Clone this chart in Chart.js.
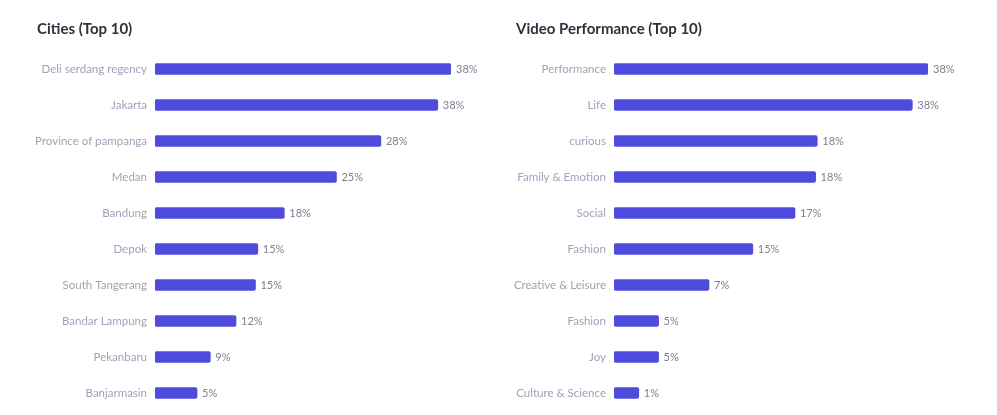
<!DOCTYPE html>
<html>
<head>
<meta charset="utf-8">
<script src="https://cdn.jsdelivr.net/npm/chart.js@4.4.1/dist/chart.umd.min.js"></script>
<style>
  html, body { margin: 0; padding: 0; background: #fff; }
  #wrap { position: relative; width: 997px; height: 415px; overflow: hidden; }
  canvas { position: absolute; top: 0; }
  #c1 { left: 0; }
  #c2 { left: 497px; }
  .ttl { position: absolute; top: 19px; font: bold 15px Lato, 'Open Sans', sans-serif; color: #30303c; line-height: 18px; white-space: nowrap; }
</style>
</head>
<body>
<div id="wrap">
  <canvas id="c1" width="497" height="415"></canvas>
  <canvas id="c2" width="500" height="415"></canvas>
  <div class="ttl" style="left:37px">Cities (Top 10)</div>
  <div class="ttl" style="left:516px">Video Performance (Top 10)</div>
</div>
<script>
// data: bar lengths and the printed percentages differ a bit
const cityNames = ["Deli serdang regency", "Jakarta", "Province of pampanga", "Medan", "Bandung",
  "Depok", "South Tangerang", "Bandar Lampung", "Pekanbaru", "Banjarmasin"];
const cityBars = [38, 36.3, 29.0, 23.3, 16.6, 13.2, 12.9, 10.4, 7.1, 5.4];
const cityPct = [38, 38, 28, 25, 18, 15, 15, 12, 9, 5];

const videoNames = ["Performance", "Life", "curious", "Family & Emotion", "Social",
  "Fashion", "Creative & Leisure", "Fashion", "Joy", "Culture & Science"];
const videoBars = [38, 36.1, 24.6, 24.4, 21.9, 16.8, 11.5, 5.4, 5.4, 3.0];
const videoPct = [38, 38, 18, 18, 17, 15, 7, 5, 5, 1];

const FONT = "Lato, 'Open Sans', sans-serif";
const BAR = "#4f4bdc";

// draws "38%" etc just past the end of each bar
const valueLabels = {
  id: "valueLabels",
  afterDatasetsDraw(chart, args, opts) {
    const ctx = chart.ctx;
    const meta = chart.getDatasetMeta(0);
    ctx.save();
    ctx.font = "11px " + FONT;
    ctx.fillStyle = "#7e7f90";
    ctx.textAlign = "left";
    ctx.textBaseline = "middle";
    meta.data.forEach((bar, i) => {
      ctx.fillText(opts.text[i] + "%", bar.x + 5, bar.y + 0.5);
    });
    ctx.restore();
  }
};

function makeChart(id, names, bars, pct, axisW, padRight) {
  return new Chart(document.getElementById(id), {
    type: "bar",
    data: {
      labels: names,
      datasets: [{
        data: bars,
        backgroundColor: BAR,
        borderRadius: 2,
        borderSkipped: false,
        barThickness: 11
      }]
    },
    options: {
      indexAxis: "y",
      responsive: false,
      animation: false,
      layout: { padding: { left: 5, right: padRight, top: 51, bottom: 4 } },
      plugins: {
        legend: { display: false },
        tooltip: { enabled: false },
        valueLabels: { text: pct }
      },
      scales: {
        x: { display: false, min: 0, max: 38 },
        y: {
          grid: { display: false, drawTicks: false },
          border: { display: false },
          ticks: { color: "#a0a2b8", padding: 8, font: { family: FONT, size: 11.5 } },
          afterFit(scale) {
            scale.width = axisW;
            scale.paddingTop = 0;
            scale.paddingBottom = 0;
          }
        }
      }
    },
    plugins: [valueLabels]
  });
}

makeChart("c1", cityNames, cityBars, cityPct, 150, 46);
makeChart("c2", videoNames, videoBars, videoPct, 112, 69);
</script>
</body>
</html>
